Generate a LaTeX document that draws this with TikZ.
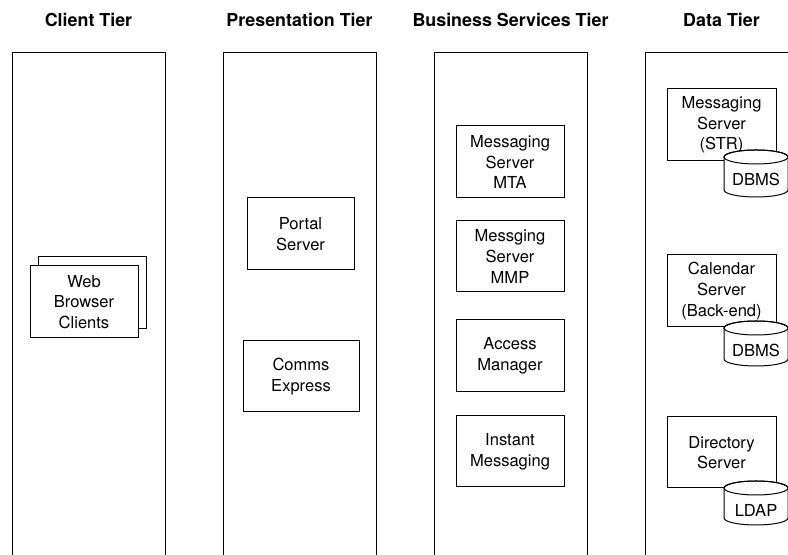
\documentclass[tikz,border=0pt]{standalone}
\usepackage{fontspec}
\setmainfont{TeX Gyre Heros}
\begin{document}
\begin{tikzpicture}[x=0.75pt,y=0.75pt,line width=0.75pt,
  tier/.style={draw,minimum width=114.75pt,minimum height=384pt,inner sep=0pt},
  title/.style={anchor=base,font=\fontsize{13.4}{16}\selectfont\bfseries},
  comp/.style={draw,fill=white,minimum width=81pt,minimum height=54pt,inner sep=0pt,align=center,font=\fontsize{12.4}{15.5}\selectfont},
  dblabel/.style={inner sep=0pt,font=\fontsize{12.4}{15.5}\selectfont}]
\clip (0,0) rectangle (788,555);
\fill[white] (0,0) rectangle (788,555);
% columns
\node[tier] (c1) at (88.5,246) {};
\node[tier] (c2) at (299.5,246) {};
\node[tier] (c3) at (510.5,246) {};
\node[tier] (c4) at (721.5,246) {};
% titles
\node[title] (t1) at (88.5,528.3) {Client Tier};
\node[title] (t2) at (299.5,528.3) {Presentation Tier};
\node[title] (t3) at (510.5,528.3) {Business Services Tier};
\node[title] (t4) at (721.5,528.3) {Data Tier};
% client
\node[comp] (wbback) at (92,262) {};
\node[comp] (wb) at (84,253) {Web\\Browser\\Clients};
% presentation
\node[comp,minimum width=80.25pt] (portal) at (300.5,321) {Portal\\Server};
\node[comp,minimum width=87pt,minimum height=53.25pt] (comms) at (301,178.5) {Comms\\Express};
% business
\node[comp] (mta) at (510,393) {Messaging\\Server\\MTA};
\node[comp,minimum height=53.25pt] (mmp) at (510,298.5) {Messging\\Server\\MMP};
\node[comp] (am) at (510,199) {Access\\Manager};
\node[comp,minimum height=53.25pt] (im) at (510,103.5) {Instant\\Messaging};
% data
\node[comp,minimum width=81.75pt] (str) at (721.5,430) {Messaging\\Server\\(STR)};
\node[comp,minimum width=81.75pt] (cal) at (721.5,264) {Calendar\\Server\\(Back-end)};
\node[comp,minimum width=81.75pt,minimum height=53.25pt] (dir) at (721.5,102.5) {Directory\\Server};
% cylinders
\foreach \t/\b in {398/365, 227/196, 67/37}{
  \filldraw[fill=white] (724,\t) -- (724,\b) arc[start angle=180,end angle=360,x radius=32,y radius=7]
     -- (788,\t) arc[start angle=0,end angle=180,x radius=32,y radius=7] -- cycle;
  \draw (756,\t) ellipse[x radius=32,y radius=7];
}
\node[dblabel] (db1) at (756,376) {DBMS};
\node[dblabel] (db2) at (756,205) {DBMS};
\node[dblabel] (db3) at (756,45) {LDAP};
\end{tikzpicture}
\end{document}
